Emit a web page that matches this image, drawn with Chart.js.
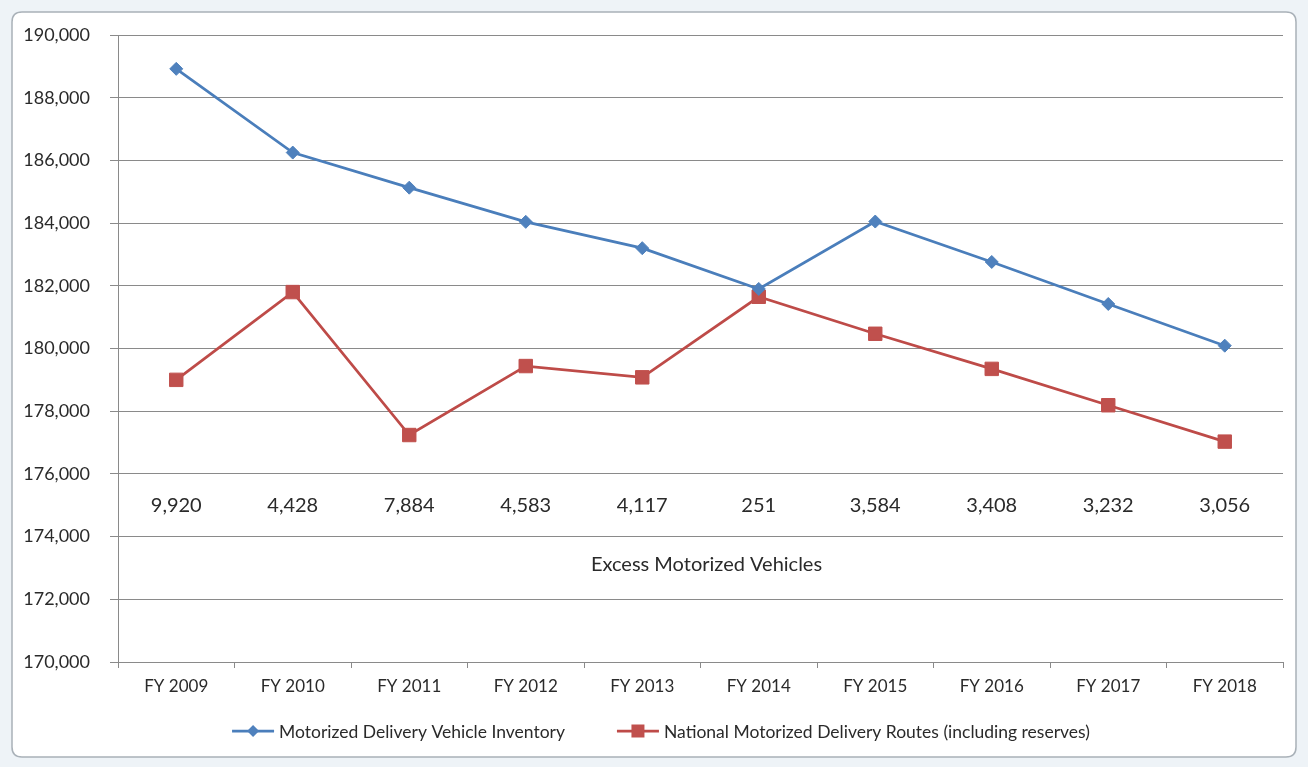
<!DOCTYPE html>
<html><head><meta charset="utf-8">
<script src="https://cdn.jsdelivr.net/npm/chart.js@4.4.1/dist/chart.umd.min.js"></script>
<style>html,body{margin:0;padding:0;background:#fff;overflow:hidden}#wrap{width:1308px;height:767px;position:relative}</style>
</head><body><div id="wrap"><canvas id="c" width="1308" height="767"></canvas></div>
<script>
const categories = ['FY 2009','FY 2010','FY 2011','FY 2012','FY 2013','FY 2014','FY 2015','FY 2016','FY 2017','FY 2018'];
const vehicleInventory = [188920, 186250, 185130, 184040, 183200, 181900, 184050, 182760, 181420, 180090];
const deliveryRoutes   = [179000, 181800, 177240, 179440, 179080, 181650, 180470, 179350, 178190, 177030];
const excessVehicles   = [9920, 4428, 7884, 4583, 4117, 251, 3584, 3408, 3232, 3056];
const seriesNames = ['Motorized Delivery Vehicle Inventory', 'National Motorized Delivery Routes (including reserves)'];
const excessTitle = 'Excess Motorized Vehicles';
const yMin = 170000, yMax = 190000, yStep = 2000;
const excessLabelLevel = 175000;
const excessTitleLevel = 173100;

const FONT = 'Lato, "Open Sans", sans-serif';
const BLUE = '#4a7ebb', BLUE_M = '#4f81bd';
const RED = '#be4b48', RED_M = '#c0504d';
const GRID = '#8a8a8a';
const TEXT = '#2a2a2a';

const framePlugin = {
  id: 'frame',
  beforeDraw(chart) {
    const ctx = chart.ctx;
    ctx.save();
    ctx.fillStyle = '#eef3f7';
    ctx.fillRect(0, 0, chart.width, chart.height);
    ctx.fillStyle = '#ffffff';
    ctx.strokeStyle = '#a9b1b8';
    ctx.lineWidth = 1.5;
    const x = 12, y = 12, w = chart.width - 24, h = chart.height - 22, r = 10;
    ctx.beginPath();
    ctx.moveTo(x + r, y);
    ctx.lineTo(x + w - r, y); ctx.quadraticCurveTo(x + w, y, x + w, y + r);
    ctx.lineTo(x + w, y + h - r); ctx.quadraticCurveTo(x + w, y + h, x + w - r, y + h);
    ctx.lineTo(x + r, y + h); ctx.quadraticCurveTo(x, y + h, x, y + h - r);
    ctx.lineTo(x, y + r); ctx.quadraticCurveTo(x, y, x + r, y);
    ctx.closePath();
    ctx.fill(); ctx.stroke();
    ctx.restore();
  }
};

const excessPlugin = {
  id: 'excess',
  afterDatasetsDraw(chart) {
    const ctx = chart.ctx, xs = chart.scales.x, ys = chart.scales.y;
    ctx.save();
    ctx.fillStyle = TEXT;
    ctx.textAlign = 'center';
    ctx.textBaseline = 'middle';
    ctx.font = '20px ' + FONT;
    excessVehicles.forEach((v, i) => {
      ctx.fillText(v.toLocaleString('en-US'), xs.getPixelForValue(i), ys.getPixelForValue(excessLabelLevel));
    });
    ctx.fillText(excessTitle, (chart.chartArea.left + chart.chartArea.right) / 2 + 6, ys.getPixelForValue(excessTitleLevel));
    ctx.restore();
  }
};

function drawMarker(ctx, style, x, y, color) {
  ctx.fillStyle = color;
  ctx.beginPath();
  if (style === 'rectRot') {
    const r = 6;
    ctx.moveTo(x - r, y); ctx.lineTo(x, y - r); ctx.lineTo(x + r, y); ctx.lineTo(x, y + r); ctx.closePath();
  } else {
    const s = 6.5;
    ctx.rect(x - s, y - s, 2 * s, 2 * s);
  }
  ctx.fill();
}

const legendPlugin = {
  id: 'customLegend',
  afterDraw(chart) {
    const ctx = chart.ctx;
    const ds = chart.data.datasets;
    ctx.save();
    ctx.font = '17.5px ' + FONT;
    ctx.textBaseline = 'middle';
    ctx.textAlign = 'left';
    const lineW = 42, gapText = 5, gapItem = 52;
    const w0 = ctx.measureText(ds[0].label).width;
    const w1 = ctx.measureText(ds[1].label).width;
    const total = lineW + gapText + w0 + gapItem + lineW + gapText + w1;
    let x = 661 - total / 2;
    const y = 731;
    [0, 1].forEach(i => {
      const d = ds[i];
      ctx.strokeStyle = d.borderColor; ctx.lineWidth = 2.75;
      ctx.beginPath(); ctx.moveTo(x, y); ctx.lineTo(x + lineW, y); ctx.stroke();
      drawMarker(ctx, d.pointStyle, x + lineW / 2, y, d.pointBackgroundColor);
      ctx.fillStyle = TEXT;
      ctx.fillText(d.label, x + lineW + gapText, y + 1);
      x += lineW + gapText + (i === 0 ? w0 : w1) + gapItem;
    });
    ctx.restore();
  }
};

new Chart(document.getElementById('c'), {
  type: 'line',
  data: {
    labels: categories,
    datasets: [
      {
        label: seriesNames[0], data: vehicleInventory,
        borderColor: BLUE, borderWidth: 2.75,
        pointStyle: 'rectRot', pointRadius: 6.5, pointHoverRadius: 6.5,
        pointBackgroundColor: BLUE_M, pointBorderColor: BLUE_M, pointBorderWidth: 1,
        tension: 0, fill: false
      },
      {
        label: seriesNames[1], data: deliveryRoutes,
        borderColor: RED, borderWidth: 2.75,
        pointStyle: 'rect', pointRadius: 9.5, pointHoverRadius: 9.5,
        pointBackgroundColor: RED_M, pointBorderColor: RED_M, pointBorderWidth: 1,
        tension: 0, fill: false
      }
    ]
  },
  options: {
    responsive: false,
    animation: false,
    devicePixelRatio: 1,
    layout: { padding: { left: 12, right: 25, top: 35, bottom: 65 } },
    plugins: {
      legend: { display: false },
      tooltip: { enabled: false }
    },
    scales: {
      x: {
        type: 'category',
        offset: true,
        grid: { display: true, drawOnChartArea: false, drawTicks: true, tickLength: 6, offset: true, color: GRID, lineWidth: 1 },
        border: { display: true, color: GRID, width: 1 },
        ticks: { color: TEXT, font: { family: FONT, size: 17 }, padding: 8, maxRotation: 0, autoSkip: false },
        afterFit(scale) { scale.height = 40; }
      },
      y: {
        min: yMin, max: yMax,
        ticks: { stepSize: yStep, color: TEXT, font: { family: FONT, size: 18 }, padding: 20,
          callback: v => v.toLocaleString('en-US') },
        grid: { color: GRID, lineWidth: 1, tickLength: 8, drawTicks: true },
        border: { display: true, color: GRID, width: 1 },
        afterFit(scale) { scale.width = 106; }
      }
    }
  },
  plugins: [framePlugin, excessPlugin, legendPlugin]
});
</script>
</body></html>
